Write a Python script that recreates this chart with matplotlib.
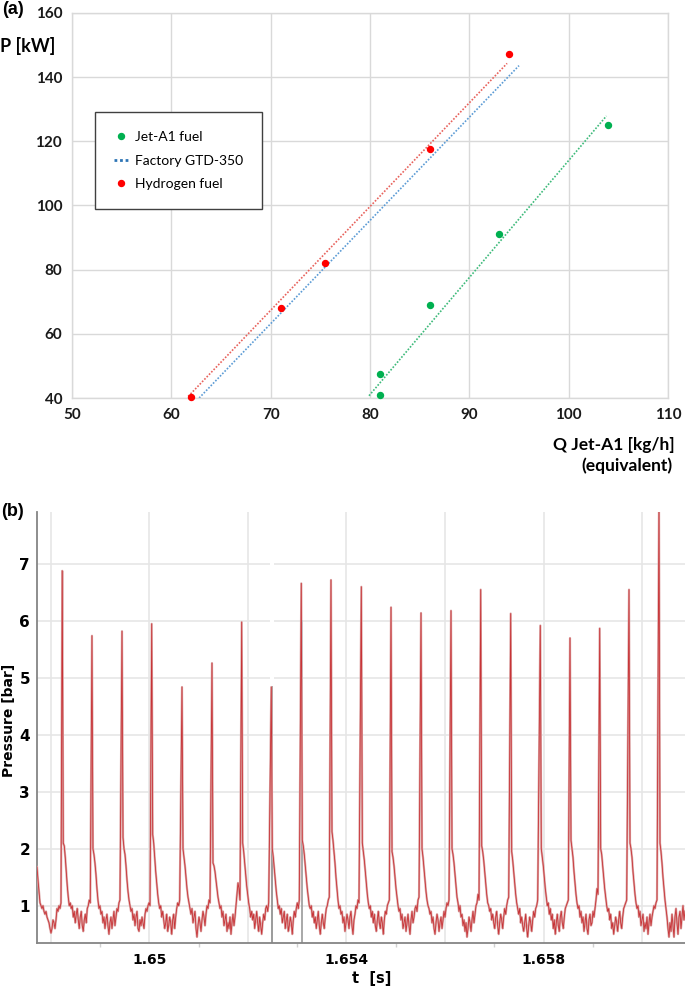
import numpy as np
import matplotlib
matplotlib.use('Agg')
import matplotlib.pyplot as plt
from matplotlib.lines import Line2D

# ── (a) data ─────────────────────────────────────────────────────────
jet_q = [81, 81, 86, 93, 104]
jet_p = [40.8, 47.5, 68.9, 91.1, 125.1]
h2_q = [62, 71, 75.5, 86, 94]
h2_p = [40.2, 68.0, 82.2, 117.7, 147.2]
# dotted trend lines (end points)
gtd_q = [62.8, 95.0]
gtd_p = [40.0, 143.6]
h2_trend_q = [61.7, 93.8]
h2_trend_p = [40.5, 144.3]
jet_trend_q = [79.9, 103.8]
jet_trend_p = [40.7, 127.9]

# ── (b) data ─────────────────────────────────────────────────────────
t_left, t_right = 1.647716, 1.660873
dt = 2.03e-5  # one sample per pixel column of the scope trace
lead_p = [1.68, 1.45, 1.25, 1.05, 1.0, 0.95, 1.0, 0.9, 0.85, 0.9, 0.8, 0.75, 0.7,
          0.6, 0.52, 0.6, 0.75, 0.7, 0.6, 0.75, 0.95, 0.9, 1.0, 0.95, 1.05]
peak_t = [1.648229, 1.648832, 1.649442, 1.650045, 1.650660, 1.651269, 1.651872,
          1.652473, 1.653082, 1.653685, 1.654301, 1.654904, 1.655513, 1.656122,
          1.656725, 1.657334, 1.657935, 1.658538, 1.659141, 1.659736, 1.660345]
peak_p = [6.88, 5.74, 5.82, 5.95, 4.84, 5.26, 5.98, 4.84, 6.66, 6.72, 6.60,
          6.24, 6.14, 6.18, 6.55, 6.13, 5.92, 5.70, 5.87, 6.55, 8.10]
# samples following each peak
cycles = [
    [2.1, 2.05, 1.85, 1.6, 1.35, 1.15, 1.0, 1.05, 0.95, 1.0, 0.8, 0.9, 0.7, 0.85,
     0.95, 0.75, 0.6, 0.8, 0.9, 0.65, 0.55, 0.75, 0.85, 0.7, 0.95, 1.0, 1.1, 1.05],
    [2.0, 1.9, 1.75, 1.55, 1.3, 1.1, 0.95, 1.0, 0.85, 0.9, 0.7, 0.8, 0.6, 0.75,
     0.85, 0.65, 0.5, 0.7, 0.8, 0.6, 0.75, 0.9, 0.65, 0.8, 0.95, 0.9, 1.05, 1.1],
    [2.2, 2.0, 1.9, 1.7, 1.45, 1.25, 1.1, 1.0, 0.9, 0.95, 0.75, 0.85, 0.65, 0.8,
     0.9, 0.6, 0.55, 0.75, 0.65, 0.8, 0.7, 0.6, 0.85, 0.95, 0.9, 1.0, 1.05, 1.0],
    [2.25, 2.1, 1.85, 1.6, 1.4, 1.2, 1.05, 0.95, 1.0, 0.8, 0.9, 0.75, 0.6, 0.7,
     0.85, 0.55, 0.65, 0.8, 0.7, 0.5, 0.75, 0.85, 0.6, 0.8, 0.95, 1.05, 1.0, 1.1],
    [2.0, 1.85, 1.7, 1.5, 1.3, 1.15, 1.05, 0.95, 0.85, 0.95, 0.7, 0.8, 0.9, 0.6,
     0.45, 0.65, 0.8, 0.7, 0.55, 0.75, 0.9, 0.8, 0.65, 0.85, 1.0, 0.95, 1.1, 1.05],
    [1.75, 1.7, 1.6, 1.45, 1.3, 1.15, 1.05, 0.95, 1.0, 0.8, 0.9, 0.65, 0.75, 0.85,
     0.55, 0.7, 0.6, 0.8, 0.5, 0.7, 0.85, 0.65, 0.8, 1.0, 1.2, 1.4, 1.3, 1.1],
    [2.1, 1.95, 1.75, 1.55, 1.35, 1.2, 1.05, 0.95, 0.8, 0.9, 0.75, 0.85, 0.6, 0.75,
     0.9, 0.7, 0.55, 0.8, 0.65, 0.5, 0.7, 0.85, 0.75, 0.95, 1.0, 0.9, 1.05],
    [2.0, 1.85, 1.65, 1.45, 1.25, 1.1, 0.95, 1.0, 0.85, 0.95, 0.7, 0.8, 0.9, 0.6,
     0.75, 0.85, 0.55, 0.65, 0.8, 0.7, 0.5, 0.75, 0.9, 0.8, 0.95, 1.05, 0.95, 1.1],
    [2.15, 2.05, 1.9, 1.7, 1.5, 1.3, 1.15, 1.0, 0.95, 1.0, 0.8, 0.9, 0.7, 0.8,
     0.6, 0.75, 0.9, 0.65, 0.5, 0.7, 0.85, 0.7, 0.6, 0.8, 0.95, 1.0, 1.1, 1.15],
    [2.3, 2.15, 1.95, 1.75, 1.5, 1.3, 1.1, 0.95, 1.0, 0.85, 0.9, 0.7, 0.8, 0.55,
     0.7, 0.85, 0.75, 0.6, 0.8, 0.9, 0.65, 0.5, 0.75, 0.85, 1.0, 0.95, 1.1, 1.05],
    [2.1, 1.95, 1.8, 1.6, 1.4, 1.2, 1.05, 0.95, 1.0, 0.8, 0.9, 0.7, 0.85, 0.65,
     0.55, 0.75, 0.9, 0.7, 0.6, 0.8, 0.7, 0.5, 0.75, 0.9, 0.85, 1.0, 1.05, 1.1],
    [1.95, 1.85, 1.7, 1.5, 1.3, 1.15, 1.0, 0.9, 0.95, 0.75, 0.85, 0.6, 0.7, 0.8,
     0.55, 0.7, 0.85, 0.65, 0.5, 0.75, 0.9, 0.7, 0.8, 0.95, 1.0, 0.9, 1.1, 1.15],
    [2.0, 1.85, 1.65, 1.45, 1.25, 1.1, 1.0, 0.95, 0.85, 0.9, 0.7, 0.8, 0.6, 0.5,
     0.7, 0.85, 0.75, 0.55, 0.7, 0.8, 0.6, 0.75, 0.9, 0.8, 0.95, 1.05, 1.0, 1.1],
    [2.0, 1.9, 1.75, 1.55, 1.35, 1.15, 1.05, 0.9, 1.0, 0.8, 0.85, 0.65, 0.75, 0.55,
     0.7, 0.45, 0.6, 0.8, 0.7, 0.55, 0.75, 0.9, 0.7, 0.85, 1.0, 1.05, 1.2, 1.1],
    [2.05, 1.95, 1.8, 1.6, 1.4, 1.2, 1.05, 1.0, 0.9, 0.95, 0.75, 0.85, 0.7, 0.6,
     0.8, 0.9, 0.65, 0.5, 0.7, 0.85, 0.75, 0.6, 0.8, 0.95, 0.85, 1.0, 1.1, 1.15],
    [1.95, 1.8, 1.6, 1.4, 1.2, 1.05, 0.95, 0.85, 0.95, 0.7, 0.8, 0.65, 0.55, 0.7,
     0.85, 0.6, 0.45, 0.65, 0.8, 0.7, 0.55, 0.75, 0.9, 0.8, 0.95, 1.0, 1.1],
    [2.0, 1.85, 1.7, 1.5, 1.3, 1.15, 1.0, 1.05, 0.85, 0.95, 0.75, 0.85, 0.6, 0.75,
     0.5, 0.7, 0.85, 0.65, 0.55, 0.8, 0.9, 0.7, 0.6, 0.8, 0.95, 1.0, 1.05, 1.1],
    [2.15, 2.0, 1.85, 1.6, 1.4, 1.2, 1.05, 0.95, 1.0, 0.8, 0.9, 0.7, 0.8, 0.55,
     0.7, 0.85, 0.6, 0.5, 0.75, 0.85, 0.65, 0.7, 0.9, 0.8, 0.95, 1.1, 1.3, 1.2],
    [2.0, 1.9, 1.7, 1.5, 1.3, 1.15, 1.0, 0.9, 0.95, 0.75, 0.85, 0.6, 0.7, 0.5,
     0.65, 0.8, 0.7, 0.55, 0.75, 0.9, 0.7, 0.6, 0.8, 0.95, 1.0, 1.05, 1.1],
    [2.1, 2.0, 1.85, 1.6, 1.4, 1.2, 1.05, 0.95, 1.0, 0.8, 0.9, 0.65, 0.75, 0.85,
     0.55, 0.7, 0.6, 0.8, 0.5, 0.7, 0.85, 0.65, 0.8, 0.9, 1.0, 0.95, 1.05, 1.1],
    [2.1, 1.95, 1.75, 1.5, 1.3, 1.1, 0.95, 0.8, 0.6, 0.45, 0.7, 0.55, 0.85, 0.65,
     0.45, 0.8, 0.95, 0.7, 0.5, 0.8, 0.9, 0.6, 0.8, 1.0, 0.75, 0.9],
]
cursor_gray_t = 1.652481
cursor_cyan_t = 1.653090

# build trace
t_parts = [t_left + dt * np.arange(len(lead_p))]
p_parts = [np.array(lead_p)]
for tk, pk, row in zip(peak_t, peak_p, cycles):
    t_parts.append(tk + dt * np.arange(len(row) + 1))
    p_parts.append(np.array([pk] + row))
trace_t = np.concatenate(t_parts)
trace_p = np.concatenate(p_parts)

W, H = 685, 989
fig = plt.figure(figsize=(W / 100, H / 100), dpi=100, facecolor='white')

# ── panel (a) ────────────────────────────────────────────────────────
lato = 'Lato'
grid_a = '#d9d9d9'
ax1 = fig.add_axes([72 / W, 1 - 398 / H, 596 / W, 385 / H])
ax1.set_xlim(50, 110)
ax1.set_ylim(40, 160)
ax1.set_xticks(range(50, 111, 10))
ax1.set_yticks(range(40, 161, 20))
ax1.grid(True, color=grid_a, linewidth=1.0)
ax1.set_axisbelow(True)
for sp in ax1.spines.values():
    sp.set_edgecolor(grid_a)
    sp.set_linewidth(1.0)
ax1.tick_params(length=0, pad=7)
for lab in ax1.get_xticklabels() + ax1.get_yticklabels():
    lab.set_fontfamily(lato)
    lab.set_fontweight('bold')
    lab.set_fontsize(11)
    lab.set_color('#1a1a1a')

ax1.plot(h2_trend_q, h2_trend_p, color='#e8625c', lw=1.2, ls=(0, (1, 1)))
ax1.plot(gtd_q, gtd_p, color='#5b9bd5', lw=1.2, ls=(0, (1, 1)))
ax1.plot(jet_trend_q, jet_trend_p, color='#3dba7a', lw=1.2, ls=(0, (1, 1)))
ax1.plot(h2_q, h2_p, 'o', color='#ff0000', ms=4.3, clip_on=False, zorder=5)
ax1.plot(jet_q, jet_p, 'o', color='#00b050', ms=4.3, clip_on=False, zorder=5)

handles = [
    Line2D([], [], color='#00b050', marker='o', ls='none', ms=4.3),
    Line2D([], [], color='#2e75b6', ls=(0, (1, 1)), lw=2.0),
    Line2D([], [], color='#ff0000', marker='o', ls='none', ms=4.3),
]
leg = ax1.legend(handles, ['Jet-A1 fuel', 'Factory GTD-350', 'Hydrogen fuel'],
                 loc='upper left', bbox_to_anchor=(23 / 596, 1 - 99 / 385),
                 borderaxespad=0, fancybox=False, edgecolor='#404040',
                 framealpha=1, borderpad=1.35, labelspacing=0.85,
                 handlelength=1.0, handletextpad=0.55,
                 prop={'family': lato, 'size': 10})
leg.get_frame().set_linewidth(1.0)

fig.text(2 / W, 1 - 10 / H, '(a)', family='Liberation Sans', weight='bold',
         fontsize=13, ha='left', va='center')
fig.text(0, 1 - 46 / H, 'P [kW]', family=lato, weight='bold', fontsize=13,
         ha='left', va='center')
fig.text(675 / W, 1 - 445 / H, 'Q Jet-A1 [kg/h]', family=lato, weight='bold',
         fontsize=12.5, ha='right', va='center')
fig.text(673 / W, 1 - 466 / H, '(equivalent)', family=lato, weight='bold',
         fontsize=12.5, ha='right', va='center')

# ── panel (b) ────────────────────────────────────────────────────────
ax2 = fig.add_axes([37 / W, 1 - 943 / H, 648 / W, 431 / H])
ax2.set_xlim(t_left, t_right)
ax2.set_ylim(0.345, 7.913)
ax2.set_yticks(range(1, 8))
xt = [1.648, 1.650, 1.652, 1.654, 1.656, 1.658, 1.660]
ax2.set_xticks(xt)
ax2.set_xticklabels(['', '1.65', '', '1.654', '', '1.658', ''])
ax2.set_xticks(np.arange(1.648, 1.6605, 0.001), minor=True)
ax2.grid(True, which='major', color='#e6e6e6', linewidth=1.2)
ax2.set_axisbelow(True)
for side in ['top', 'right']:
    ax2.spines[side].set_visible(False)
for side in ['left', 'bottom']:
    ax2.spines[side].set_edgecolor('#858585')
    ax2.spines[side].set_linewidth(1.3)
ax2.tick_params(axis='both', which='major', length=0, pad=7, labelsize=10)
ax2.tick_params(axis='y', pad=5)
ax2.tick_params(axis='x', which='minor', length=3, color='#d0d0d0', width=1)
for lab in ax2.get_xticklabels() + ax2.get_yticklabels():
    lab.set_fontweight('bold')
ax2.set_yticklabels([str(v) for v in range(1, 8)], fontsize=11, fontweight='bold')

# white gap in the scope grid
ax2.axvspan(cursor_gray_t - 2.5e-5, cursor_gray_t + 4e-5, ymin=0.6, ymax=1.0,
            color='white', lw=0, zorder=1)
ax2.axvline(cursor_gray_t, ymin=0, ymax=0.594, color='#8a8a8a', lw=1.2, zorder=2)
ax2.axvline(cursor_cyan_t, ymin=0, ymax=0.377, color='#9a9a9a', lw=1.2, zorder=2)
ax2.axvline(cursor_cyan_t, ymin=0.377, ymax=0.747, color='#a6dfea', lw=1.3, zorder=2)

ax2.plot(trace_t, trace_p, color='#dca6a6', lw=1.6, zorder=3, solid_joinstyle='round')
ax2.plot(trace_t, trace_p, color='#c41e22', lw=0.6, alpha=0.85, zorder=4)

fig.text(13 / W, 1 - 511 / H, '(b)', family='Liberation Sans', weight='bold',
         fontsize=13, ha='center', va='center')
fig.text(9 / W, 1 - 720 / H, 'Pressure [bar]', weight='bold', fontsize=10,
         rotation=90, ha='center', va='center')
fig.text(372 / W, 1 - 978 / H, 't  [s]', weight='bold', fontsize=10.5,
         ha='center', va='center')

fig.savefig('out.png', dpi=100, facecolor='white')
